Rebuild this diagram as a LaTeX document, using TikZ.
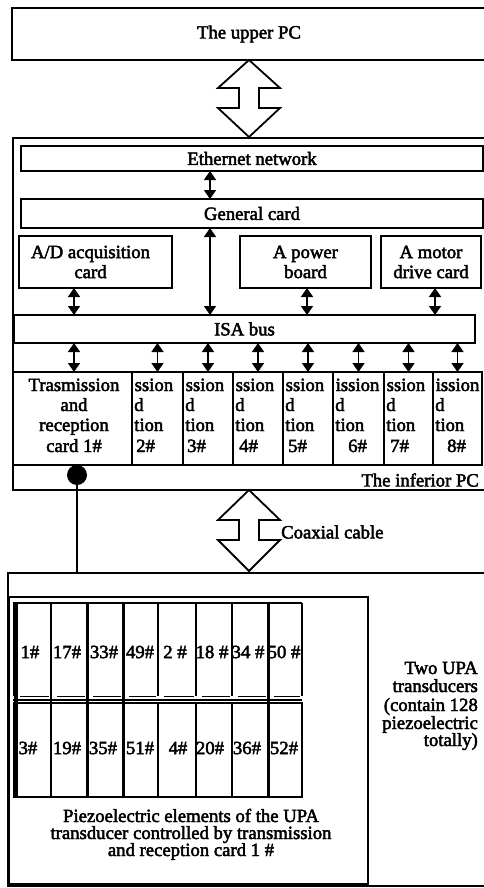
\documentclass[tikz,border=0pt]{standalone}
\usepackage{fontspec}
\setmainfont[FakeBold=2.5]{Liberation Serif}
\usetikzlibrary{arrows.meta,calc}
\newcommand{\fs}{\fontsize{18.7pt}{20pt}\selectfont}
\newcommand{\bx}[6][]{\node[box,#1,minimum width={(#4-#2)*1pt},minimum height={(#5-#3)*1pt}] (#6) at ({(#2+#4)/2},{(#3+#5)/2}) {};}
\begin{document}
\begin{tikzpicture}[x=1pt,y=-1pt,
  box/.style={draw,line width=1.6pt,inner sep=0pt,outer sep=0pt},
  txt/.style={inner sep=0pt,font=\fs,align=center},
  dbl/.style={line width=1.6pt,{Triangle[width=12pt,length=9pt]}-{Triangle[width=12pt,length=9pt]}},
  hollow/.style={draw,line width=1.8pt,line join=miter},
  cellline/.style={line width=1.5pt}]
\clip (0,0) rectangle (484,888);
\fill[white] (0,0) rectangle (484,888);

% upper PC
\bx[line width=2.2pt]{12}{8}{486}{60}{upper}
\node[txt] (uppert) at (249,34) {The upper PC};
\draw[hollow] (249,60) -- (218,88) -- (239,88) -- (239,108) -- (218,108) -- (249,137)
  -- (280,108) -- (259,108) -- (259,88) -- (280,88) -- cycle;

% inferior PC
\bx[line width=2.4pt]{13}{138}{490}{490}{inferior}
\bx{21}{146}{483}{171}{eth}
\node[txt] (etht) at (eth) {Ethernet network};
\bx{21}{199}{483}{228}{gen}
\node[txt] (gent) at (gen) {General card};
\bx{19}{236}{172}{288}{ad}
\node[txt] (adt) at (90.5,262) {A/D acquisition\\card};
\bx{240}{236}{371}{288}{pw}
\node[txt] (pwt) at (pw) {A power\\board};
\bx{381}{236}{481}{288}{mot}
\node[txt] (mott) at (mot) {A motor\\drive card};
\bx{14}{315}{475}{343}{isa}
\node[txt] (isat) at (isa) {ISA bus};

% card 1
\bx{13}{372}{132}{465}{card1}
\node[txt,anchor=base] (c1a) at (74,391) {Trasmission};
\node[txt,anchor=base] (c1b) at (74,411) {and};
\node[txt,anchor=base] (c1c) at (74,431) {reception};
\node[txt,anchor=base] (c1d) at (74,452) {card 1\#};

% cards 2..8: only the visible parts of their texts
\foreach \i/\l/\r/\w/\n in {2/132/183/ssion/4,3/183/233/ssion/4,4/233/283/ssion/6,5/283/333/ssion/5,6/333/384/ission/15,7/384/433/ssion/6,8/433/482/ission/14}{
  \bx{\l}{372}{\r}{465}{card\i}
  \node[txt,anchor=base west] (c\i a) at (\l+2.5,391) {\w};
  \node[txt,anchor=base west] (c\i b) at (\l+2,411) {d};
  \node[txt,anchor=base west] (c\i c) at (\l+2,431) {tion};
  \node[txt,anchor=base west] (c\i d) at (\l+\n,452) {\i\#};
}

% connectors
\coordinate (bx) at (210,200);
\draw[dbl] (eth.south -| bx) -- (gen.north -| bx);
\draw[dbl] (gen.south -| bx) -- (isa.north -| bx);
\draw[dbl] (ad.south -| c1a) -- (isa.north -| c1a);
\draw[dbl] ([xshift=1.5pt]pw.south) -- ([xshift=1.5pt]isa.north -| pw.south);
\draw[dbl] ([xshift=4pt]mot.south) -- ([xshift=4pt]isa.north -| mot.south);
\draw[dbl] (isa.south -| c1a) -- (card1.north -| c1a);
\foreach \i in {2,...,8}{
  \draw[dbl] (isa.south -| card\i.north) -- (card\i.north);
}

\node[txt,anchor=east] (inft) at (479,480) {The inferior PC};

% dot
\node[circle,fill,inner sep=0pt,minimum size=20pt] (dot) at (77,475) {};

% coaxial hollow arrow
\draw[hollow] (249,490) -- (218,520) -- (239,520) -- (239,540) -- (218,540) -- (249,571)
  -- (280,540) -- (259,540) -- (259,520) -- (280,520) -- cycle;
\node[txt,anchor=west] (coax) at (281,532) {Coaxial cable};

% lower part
\bx[line width=2pt]{8}{573}{490}{886}{lower}
\draw[line width=1.6pt] (dot.center) -- (lower.north -| dot);
\bx{9}{597}{368}{884}{inner}

% element labels
\foreach \t/\x [count=\k] in {1\#/30,17\#/67,33\#/104,49\#/140,2 \#/175,18 \#/212,34 \#/248,50 \#/284}{
  \node[txt] (ea\k) at (\x,652) {\t};
}
\foreach \t/\x [count=\k] in {3\#/28,19\#/67,35\#/103,51\#/140,4\#/178,20\#/210,36\#/247,52\#/284}{
  \node[txt] (eb\k) at (\x,748) {\t};
}
% element grid
\foreach \a/\b in {14/51,51/87,87/123,123/158,158/196,196/232,232/268,268/302}{
  \draw[cellline] (\a,603) -- (\a,696) (\b,603) -- (\b,696);
  \draw[line width=1pt] (\a+6,696) -- (\b-2,696);
  \draw[cellline] (\a,703) rectangle (\b,797);
}
\draw[cellline] (13,603) -- (302,603);
\draw[line width=1.2pt] (13,700) -- (302,700);
\draw[line width=4pt] (15.5,603) -- (15.5,797);
\draw[line width=2.5pt] (51,603) -- (51,797);
\draw[line width=3pt] (87,603) -- (87,797);
\draw[line width=3pt] (123,603) -- (123,797);
\draw[line width=3pt] (268,603) -- (268,797);

% bottom caption
\node[txt,anchor=base] (pa) at (191,822) {Piezoelectric elements of the UPA};
\node[txt,anchor=base] (pb) at (191,839) {transducer controlled by transmission};
\node[txt,anchor=base] (pc) at (191,856) {and reception card 1 \#};

% right caption
\node[txt,anchor=base east] (ra) at (478,674) {Two UPA};
\node[txt,anchor=base east] (rb) at (478,692) {transducers};
\node[txt,anchor=base east] (rc) at (478,711) {(contain 128};
\node[txt,anchor=base east] (rd) at (478,729) {piezoelectric};
\node[txt,anchor=base east] (re) at (478,746) {totally)};
\end{tikzpicture}
\end{document}
